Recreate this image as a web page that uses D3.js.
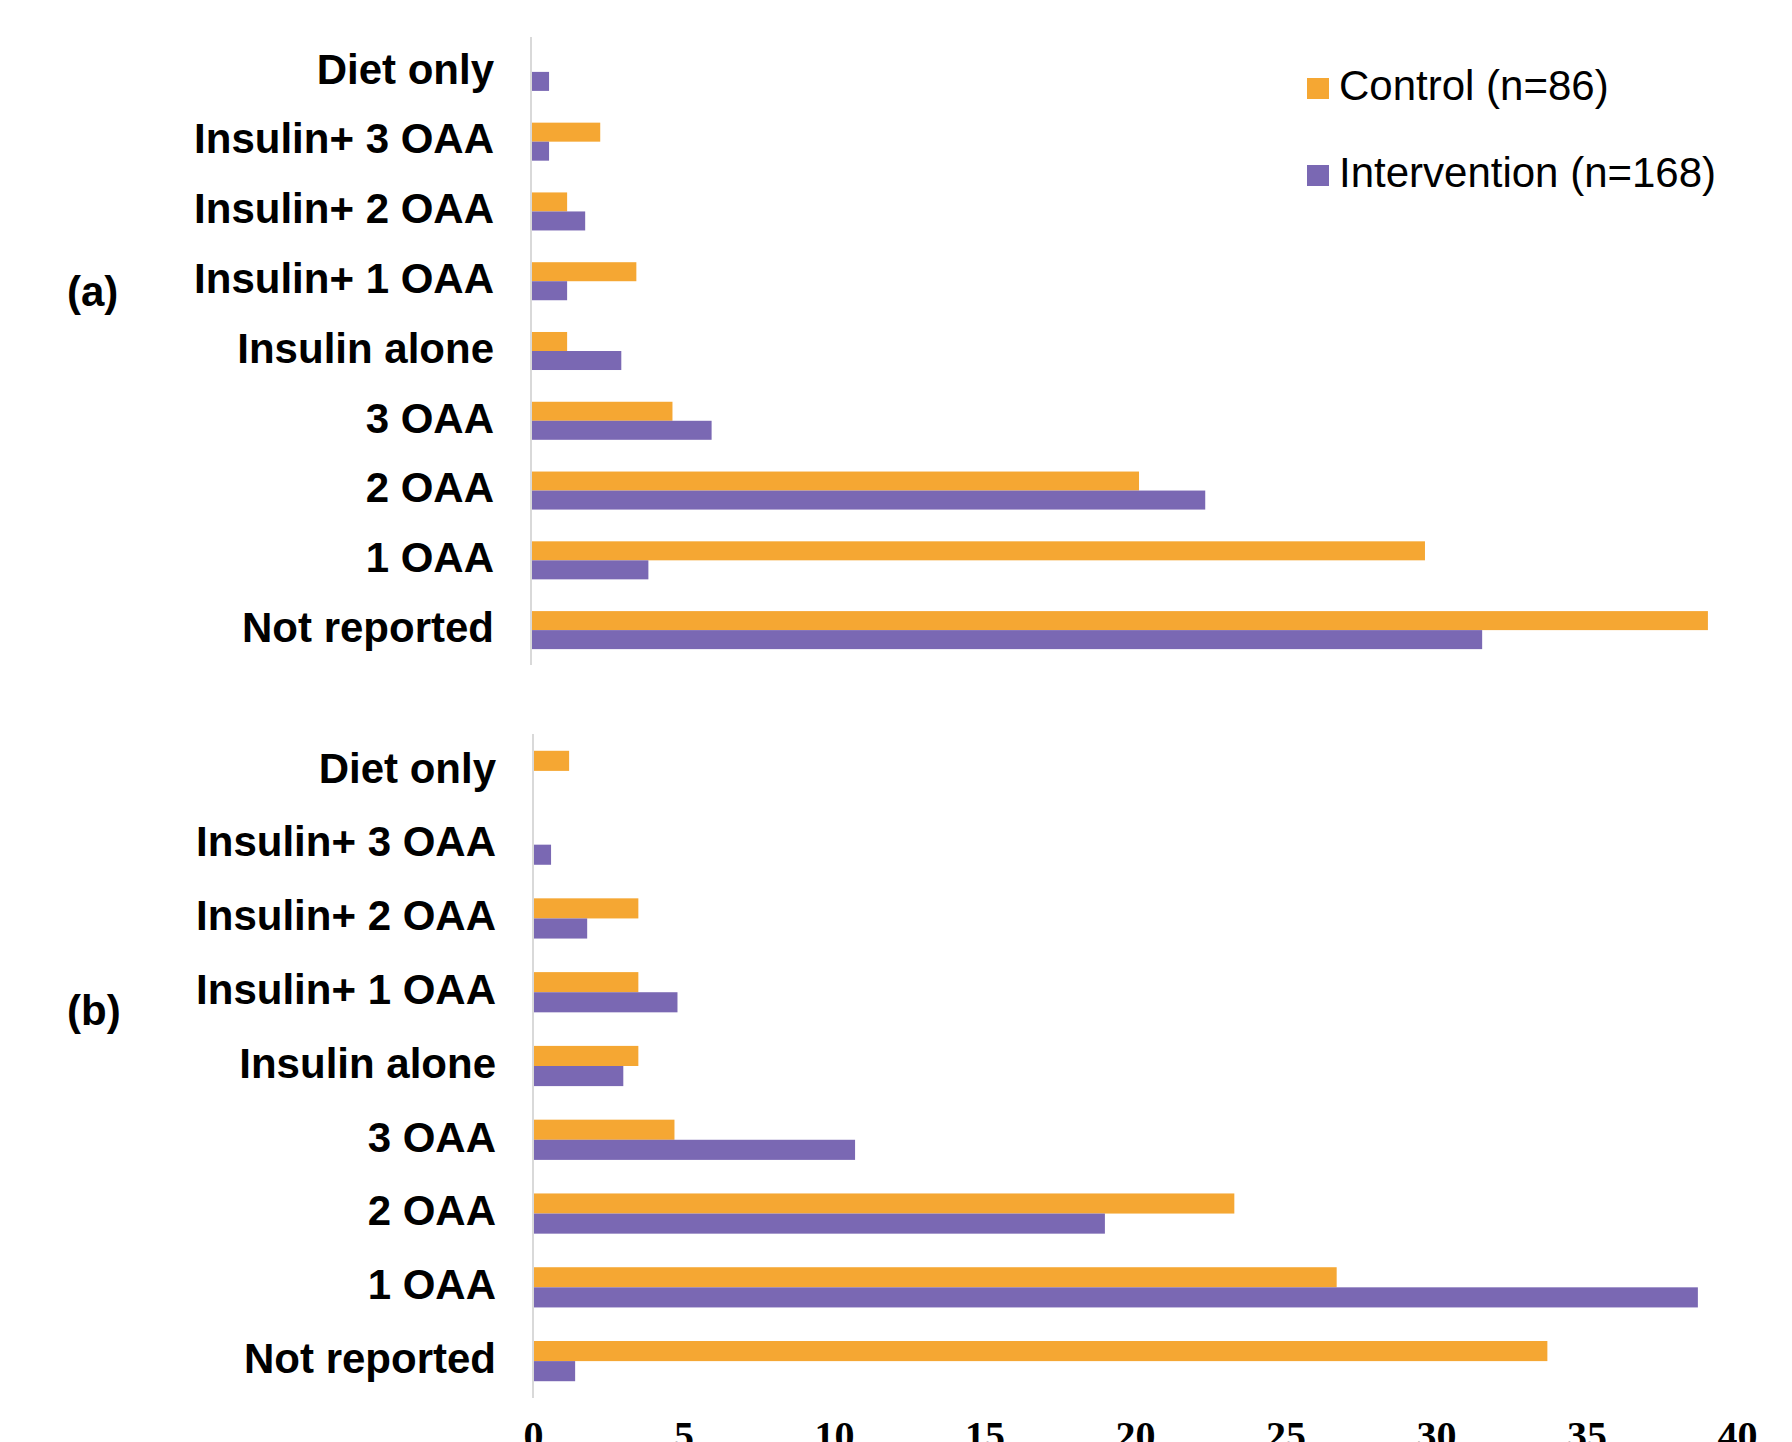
<!DOCTYPE html>
<html>
<head>
<meta charset="utf-8">
<script src="https://cdn.jsdelivr.net/npm/d3@7"></script>
<style>
  html, body { margin: 0; padding: 0; background: #ffffff; }
  svg { display: block; }
</style>
</head>
<body>
<svg id="chart" width="1792" height="1442"></svg>
<script>
// Treatment categories, listed top to bottom
const categories = [
  "Diet only", "Insulin+ 3 OAA", "Insulin+ 2 OAA", "Insulin+ 1 OAA",
  "Insulin alone", "3 OAA", "2 OAA", "1 OAA", "Not reported"
];

// Panel (a): percentage of patients per group
const controlA      = [0,   2.3, 1.2, 3.5, 1.2, 4.7, 20.2, 29.7, 39.1];
const interventionA = [0.6, 0.6, 1.8, 1.2, 3.0, 6.0, 22.4,  3.9, 31.6];

// Panel (b): percentage of patients per group
const controlB      = [1.2, 0,   3.5, 3.5, 3.5, 4.7, 23.3, 26.7, 33.7];
const interventionB = [0,   0.6, 1.8, 4.8, 3.0, 10.7, 19.0, 38.7, 1.4];

const seriesNames = ["Control (n=86)", "Intervention (n=168)"];
const xTicks = [0, 5, 10, 15, 20, 25, 30, 35, 40];

const colors = { control: "#F5A733", intervention: "#7A68B3" };
const axisGray = "#D9D9D9";
const labelFont = "'Liberation Sans', Arial, sans-serif";

const svg = d3.select("#chart");

function drawPanel(cfg) {
  const x = d3.scaleLinear().domain([0, 40]).range([cfg.x0, cfg.x0 + 1204]);
  const y = d3.scaleBand().domain(categories).range([cfg.top, cfg.bottom])
    .paddingInner(0.455).paddingOuter(0.2275);
  const inner = d3.scaleBand().domain(["control", "intervention"])
    .range([0, y.bandwidth()]);

  const g = svg.append("g");

  const rows = categories.map((c, i) => ({
    cat: c,
    values: [
      { key: "control", v: cfg.control[i] },
      { key: "intervention", v: cfg.intervention[i] }
    ]
  }));

  g.selectAll("g.row").data(rows).join("g")
    .attr("class", "row")
    .attr("transform", d => `translate(0,${y(d.cat)})`)
    .selectAll("rect").data(d => d.values.filter(v => v.v > 0)).join("rect")
    .attr("x", x(0))
    .attr("y", d => inner(d.key))
    .attr("width", d => x(d.v) - x(0))
    .attr("height", inner.bandwidth())
    .attr("fill", d => colors[d.key]);

  // vertical category axis with labels
  const yAxis = d3.axisLeft(y).tickSize(0).tickPadding(cfg.x0 - cfg.labelRight);
  const ya = g.append("g").attr("transform", `translate(${x(0)},0)`).call(yAxis);
  ya.select(".domain").attr("stroke", axisGray).attr("stroke-width", 2)
    .attr("d", `M0,${cfg.top}V${cfg.bottom}`);
  ya.selectAll("text")
    .attr("dy", "0.28em")
    .style("font-family", labelFont)
    .style("font-weight", "bold")
    .style("font-size", "42px")
    .attr("fill", "#000");

  // panel letter
  svg.append("text")
    .attr("x", 67).attr("y", cfg.letterY)
    .style("font-family", labelFont)
    .style("font-weight", "bold")
    .style("font-size", "42px")
    .text(cfg.letter);

  return x;
}

drawPanel({
  x0: 531, top: 37, bottom: 665, labelRight: 494,
  control: controlA, intervention: interventionA,
  letter: "(a)", letterY: 306
});

const xB = drawPanel({
  x0: 533, top: 734, bottom: 1398, labelRight: 496,
  control: controlB, intervention: interventionB,
  letter: "(b)", letterY: 1025
});

// value axis below panel (b)
const xAxis = d3.axisBottom(xB).tickValues(xTicks).tickSize(0).tickPadding(0);
const xa = svg.append("g").attr("transform", "translate(0,1449)").call(xAxis);
xa.select(".domain").remove();
xa.selectAll("text")
  .attr("dy", 0)
  .attr("y", 0)
  .style("font-family", "'Liberation Serif', 'Times New Roman', serif")
  .style("font-weight", "bold")
  .style("font-size", "40px")
  .attr("fill", "#000");

// legend
const legend = svg.append("g");
const legendRows = [
  { name: seriesNames[0], key: "control", y: 78 },
  { name: seriesNames[1], key: "intervention", y: 165 }
];
const lg = legend.selectAll("g").data(legendRows).join("g")
  .attr("transform", d => `translate(1307,${d.y})`);
lg.append("rect").attr("width", 22).attr("height", 21)
  .attr("fill", d => colors[d.key]);
lg.append("text")
  .attr("x", 32).attr("y", 22)
  .style("font-family", labelFont)
  .style("font-size", "42px")
  .attr("fill", "#000")
  .text(d => d.name);
</script>
</body>
</html>
